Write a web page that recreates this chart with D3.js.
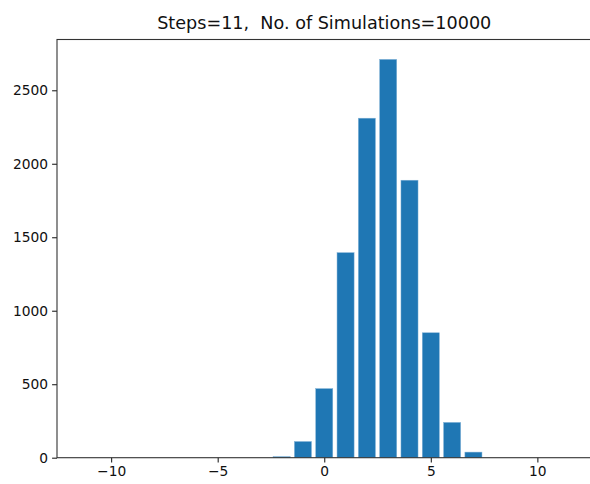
<!DOCTYPE html>
<html>
<head>
<meta charset="utf-8">
<script src="https://cdn.jsdelivr.net/npm/d3@7"></script>
<style>
  html, body { margin: 0; padding: 0; background: #fff; }
  svg { display: block; font-family: "DejaVu Sans", sans-serif; }
</style>
</head>
<body>
<svg id="chart" width="590" height="484"></svg>
<script>
const categories = [-2, -1, 0, 1, 2, 3, 4, 5, 6, 7];
const counts = [7, 110, 470, 1395, 2310, 2710, 1888, 850, 240, 38];
const xTicks = [-10, -5, 0, 5, 10];
const yTicks = [0, 500, 1000, 1500, 2000, 2500];
const xDomain = [-12.54, 12.54];
const titleText = "Steps=11,  No. of Simulations=10000";

const svg = d3.select("#chart");
const margin = { left: 57, top: 39.5, right: 591.5, bottom: 457.7 };

const x = d3.scaleLinear().domain(xDomain).range([margin.left, margin.right]);
const yMax = d3.max(counts) * 1.05;
const y = d3.scaleLinear().domain([0, yMax]).range([margin.bottom, margin.top]);
const barW = 0.8;

svg.append("g")
  .selectAll("rect")
  .data(categories.map((c, i) => ({ c, v: counts[i] })))
  .join("rect")
  .attr("x", d => x(d.c - barW / 2))
  .attr("width", d => x(d.c + barW / 2) - x(d.c - barW / 2))
  .attr("y", d => y(d.v))
  .attr("height", d => y(0) - y(d.v))
  .attr("fill", "#1f77b4")
  .attr("stroke", "#7fb0d6")
  .attr("stroke-width", 0.5);

const xAxis = d3.axisBottom(x).tickValues(xTicks).tickSizeOuter(0).tickSize(4.9).tickPadding(4).tickFormat(d3.format("d"));
const yAxis = d3.axisLeft(y).tickValues(yTicks).tickSizeOuter(0).tickSize(4.9).tickPadding(4).tickFormat(d3.format("d"));

const gx = svg.append("g").attr("transform", `translate(0,${margin.bottom})`).call(xAxis);
const gy = svg.append("g").attr("transform", `translate(${margin.left},0)`).call(yAxis);

[gx, gy].forEach(g => {
  g.select(".domain").remove();
  g.selectAll("line").attr("stroke", "#222").attr("stroke-width", 1.1);
  g.selectAll("text").attr("fill", "#111").style("font-size", "13.8px").style("font-family", "'DejaVu Sans', sans-serif");
});

// spines
const spineColor = "#333";
svg.append("rect")
  .attr("x", margin.left).attr("y", margin.top)
  .attr("width", margin.right - margin.left).attr("height", margin.bottom - margin.top)
  .attr("fill", "none").attr("stroke", spineColor).attr("stroke-width", 1.1);

svg.append("text")
  .attr("x", (margin.left + margin.right) / 2)
  .attr("y", 29)
  .attr("text-anchor", "middle")
  .attr("fill", "#111")
  .style("font-size", "17.6px")
  .style("white-space", "pre")
  .text(titleText);
</script>
</body>
</html>
